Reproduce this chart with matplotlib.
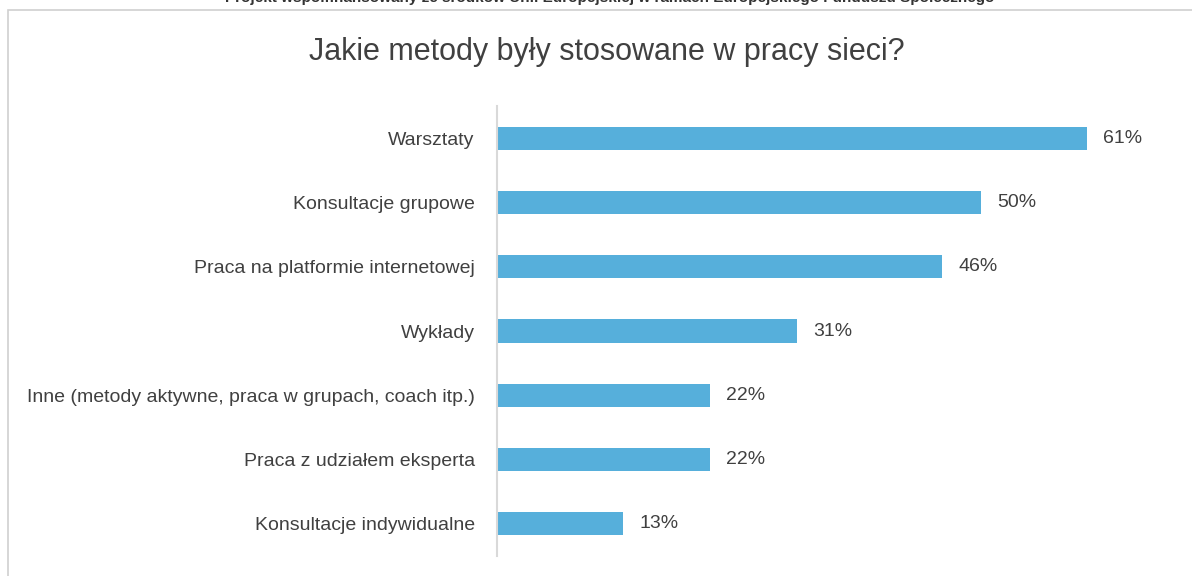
import matplotlib
matplotlib.use("Agg")
import matplotlib.pyplot as plt
from matplotlib.patches import Rectangle

categories = [
    "Warsztaty",
    "Konsultacje grupowe",
    "Praca na platformie internetowej",
    "Wykłady",
    "Inne (metody aktywne, praca w grupach, coach itp.)",
    "Praca z udziałem eksperta",
    "Konsultacje indywidualne",
]
values = [61, 50, 46, 31, 22, 22, 13]
value_labels = ["61%", "50%", "46%", "31%", "22%", "22%", "13%"]
title = "Jakie metody były stosowane w pracy sieci?"
header = "Projekt współfinansowany ze środków Unii Europejskiej w ramach Europejskiego Funduszu Społecznego"

plt.rcParams["font.family"] = ["Liberation Sans", "DejaVu Sans"]

W, H = 1192, 576
fig = plt.figure(figsize=(W / 100, H / 100), dpi=100)

# outer border
fig.patches.append(Rectangle((8 / W, -0.01), (W - 8 + 20) / W, 1 - 10 / H + 0.01,
                             transform=fig.transFigure, fill=False,
                             edgecolor="#D0D0D0", linewidth=1.2))

fig.text(610 / W, 1 - 2 / H, header, ha="center", va="baseline",
         fontsize=11, fontweight="bold", color="#333333")

fig.text(607 / W, 1 - 52 / H, title, ha="center", va="center",
         fontsize=22, color="#404040")

left = 497 / W
right = 1150 / W
bottom = 20 / H
top = 1 - 106 / H
ax = fig.add_axes([left, bottom, right - left, top - bottom])

y = list(range(len(categories)))
ax.barh(y, values, height=0.36, color="#56AFDB")
ax.set_ylim(len(categories) - 0.5, -0.5)
xmax = (1150 - 497) / (590 / 61)
ax.set_xlim(0, xmax)

ax.set_yticks(y)
ax.set_yticklabels(categories, fontsize=14, color="#404040")
ax.tick_params(axis="y", length=0, pad=16)
ax.set_xticks([])
for s in ["top", "right", "bottom"]:
    ax.spines[s].set_visible(False)
ax.spines["left"].set_color("#D9D9D9")
ax.spines["left"].set_linewidth(1.5)

for yi, v, lab in zip(y, values, value_labels):
    ax.text(v + 1.7, yi, lab, va="center", ha="left", fontsize=14, color="#404040")

fig.savefig("out.png", dpi=100)
